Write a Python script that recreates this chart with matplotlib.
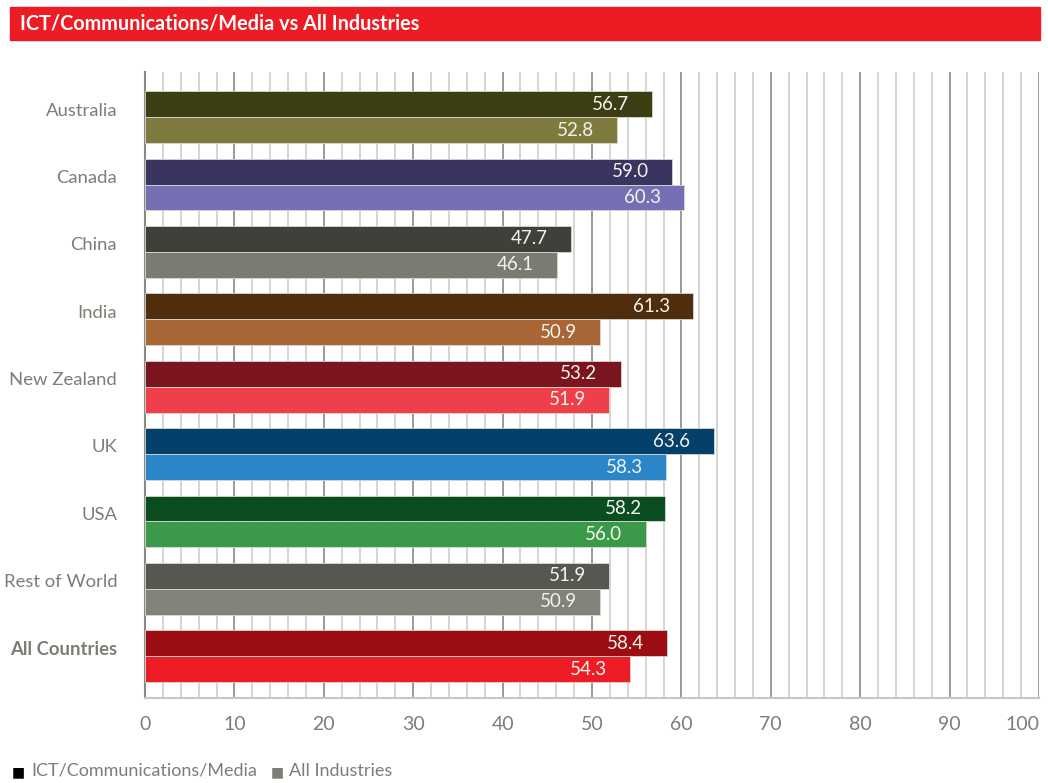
import matplotlib.pyplot as plt
from matplotlib.patches import Rectangle
import numpy as np

countries = ["Australia", "Canada", "China", "India", "New Zealand", "UK", "USA",
             "Rest of World", "All Countries"]
ict = [56.7, 59.0, 47.7, 61.3, 53.2, 63.6, 58.2, 51.9, 58.4]
all_ind = [52.8, 60.3, 46.1, 50.9, 51.9, 58.3, 56.0, 50.9, 54.3]
ict_colors = ["#3d3d14", "#3a3560", "#40403a", "#4f2d0d", "#7a1520", "#04406a",
              "#0a4d20", "#575650", "#9c0c13"]
all_colors = ["#7f7a3e", "#7570b3", "#7b7b73", "#a86536", "#ee3f4a", "#2a86c9",
              "#3a9a4a", "#82827a", "#ee1c25"]
series_names = ["ICT/Communications/Media", "All Industries"]

plt.rcParams['font.family'] = ['Lato', 'DejaVu Sans']
grey = "#7d7d75"

fig = plt.figure(figsize=(10.48, 7.83), dpi=100)
ax = fig.add_axes([145 / 1048, 1 - 698 / 783, 894 / 1048, 626 / 783])

y = np.arange(len(countries))
h = 0.385
ax.barh(y - h / 2, ict, height=h, color=ict_colors, edgecolor="#d8d8d0", linewidth=0.6, zorder=3)
ax.barh(y + h / 2, all_ind, height=h, color=all_colors, edgecolor="#d8d8d0", linewidth=0.6, zorder=3)

# value labels inside the bar ends
for i in range(len(countries)):
    ax.text(ict[i] - 2.6, y[i] - h / 2, f"{ict[i]:.1f}", color="#f4f4ee", fontsize=13.5,
            ha="right", va="center", zorder=4)
    ax.text(all_ind[i] - 2.6, y[i] + h / 2, f"{all_ind[i]:.1f}", color="#f4f4ee", fontsize=13.5,
            ha="right", va="center", zorder=4)

ax.set_xlim(0, 100)
ax.set_ylim(8.62, -0.67)
for v in range(2, 101, 2):
    major = v % 10 == 0
    ax.axvline(v, color="#8a8a82" if major else "#d0d0c8", lw=1.2, zorder=1)

ax.set_xticks(range(0, 101, 10))
ax.set_xticklabels([str(v) for v in range(0, 101, 10)], color=grey, fontsize=14)
ax.get_xticklabels()[-1].set_horizontalalignment("right")
ax.set_yticks(y - 0.12)
ax.set_yticklabels(countries, color=grey, fontsize=13.3)
ax.get_yticklabels()[-1].set_fontweight("bold")
ax.tick_params(length=0, axis="x", pad=13)
ax.tick_params(length=0, axis="y", pad=20)
for s in ["top", "right"]:
    ax.spines[s].set_visible(False)
ax.spines["left"].set_color("#8a8a82")
ax.spines["left"].set_linewidth(1.5)
ax.spines["bottom"].set_color("#c8c8c0")
ax.spines["bottom"].set_linewidth(1.5)

# title banner
fig.patches.append(Rectangle((10 / 1048, 1 - 40 / 783), 1030 / 1048, 33 / 783,
                             transform=fig.transFigure, color="#ed1c24", zorder=0))
fig.text(20 / 1048, 1 - 24 / 783, "ICT/Communications/Media vs All Industries",
         color="white", fontsize=14.3, fontweight="bold", va="center", ha="left")

# legend
fig.text(12 / 1048, 1 - 772 / 783, "\u25a0", color="black", fontsize=10, va="center",
         family="DejaVu Sans")
fig.text(31 / 1048, 1 - 771 / 783, series_names[0], color=grey, fontsize=13, va="center")
fig.text(271 / 1048, 1 - 772 / 783, "\u25a0", color=grey, fontsize=10, va="center",
         family="DejaVu Sans")
fig.text(289 / 1048, 1 - 771 / 783, series_names[1], color=grey, fontsize=13, va="center")

fig.savefig("out.png", dpi=100)
